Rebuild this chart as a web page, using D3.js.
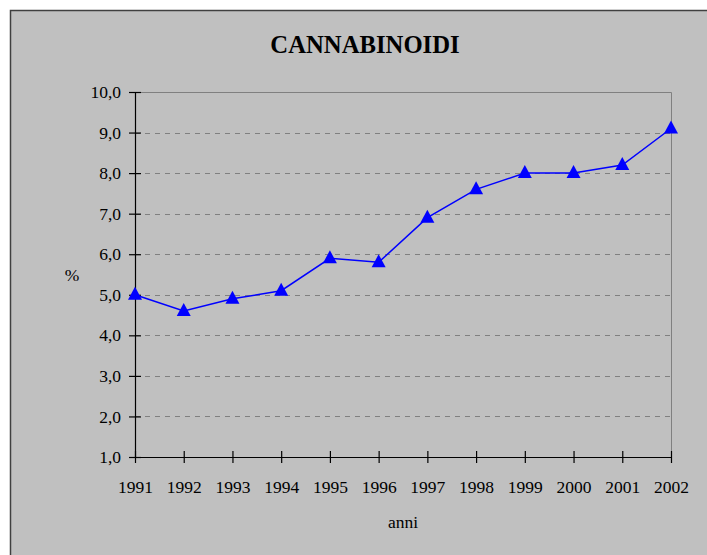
<html>

<head>
  <title>CANNABINOIDI</title>
  <style>
    body { margin: 0; background: #fff; }
    text { font-family: "Liberation Serif", "Times New Roman", serif; fill: #000; }
  </style>
</head>

<body>
  <script src="https://d3js.org/d3.v7.min.js"></script>
  <script>
    var years = ["1991", "1992", "1993", "1994", "1995", "1996", "1997", "1998", "1999", "2000", "2001", "2002"];
    var values = [5.0, 4.6, 4.9, 5.1, 5.9, 5.8, 6.9, 7.6, 8.0, 8.0, 8.2, 9.1];
    var yTicks = [1, 2, 3, 4, 5, 6, 7, 8, 9, 10];

    var W = 707, H = 555;
    var margin = { top: 92, right: 36, bottom: 98, left: 135 };
    var width = W - margin.left - margin.right;
    var height = H - margin.top - margin.bottom;

    var root = d3.select("body").append("svg")
      .attr("width", W)
      .attr("height", H);

    // chart frame
    root.append("rect")
      .attr("x", 10.5).attr("y", 10.5)
      .attr("width", W).attr("height", H)
      .attr("fill", "#c0c0c0")
      .attr("stroke", "#404040")
      .attr("stroke-width", 1.5);

    root.append("text")
      .attr("x", 365)
      .attr("y", 53)
      .attr("text-anchor", "middle")
      .style("font-size", "24.7px")
      .style("font-weight", "bold")
      .text("CANNABINOIDI");

    var svg = root.append("g")
      .attr("transform", "translate(" + margin.left + "," + margin.top + ")");

    var x = d3.scalePoint().domain(years).range([0, width]);
    var y = d3.scaleLinear().domain([1, 10]).range([height, 0]);

    // dashed grid
    svg.append("g")
      .selectAll("line")
      .data(yTicks.filter(function (d) { return d > 1 && d < 10; }))
      .enter().append("line")
      .attr("x1", 0).attr("x2", width)
      .attr("y1", function (d) { return Math.round(y(d)) + 0.5; })
      .attr("y2", function (d) { return Math.round(y(d)) + 0.5; })
      .attr("stroke", "#808080")
      .attr("stroke-dasharray", "5,5");

    // plot border top / right
    svg.append("path")
      .attr("d", "M0.5,0.5H" + (width + 0.5) + "V" + height)
      .attr("fill", "none")
      .attr("stroke", "#808080")
      .attr("stroke-width", 1);

    var fmt = function (d) { return d3.format(".1f")(d).replace(".", ","); };

    var yAxis = d3.axisLeft(y).tickValues(yTicks).tickFormat(fmt).tickSizeInner(6).tickSizeOuter(0).tickPadding(8);
    var yg = svg.append("g").call(yAxis);
    yg.selectAll(".tick line").attr("x2", 6).attr("x1", -6);

    var xAxis = d3.axisBottom(x).tickSizeInner(6).tickSizeOuter(0).tickPadding(18);
    var xg = svg.append("g").attr("transform", "translate(0," + height + ")").call(xAxis);
    xg.selectAll(".tick line").attr("y1", -6).attr("y2", 6);

    root.selectAll(".domain, .tick line").attr("stroke", "#000").attr("stroke-width", 1.2);
    root.selectAll(".tick text")
      .style("font-family", "'Liberation Serif', 'Times New Roman', serif")
      .style("font-size", "17.5px")
      .attr("fill", "#000");

    svg.append("text")
      .attr("x", width / 2)
      .attr("y", height + 71)
      .attr("text-anchor", "middle")
      .style("font-size", "17.5px")
      .text("anni");

    svg.append("text")
      .attr("x", -63)
      .attr("y", 189)
      .attr("text-anchor", "middle")
      .style("font-size", "17.5px")
      .text("%");

    var line = d3.line()
      .x(function (d, i) { return x(years[i]); })
      .y(function (d) { return y(d); });

    svg.append("path")
      .datum(values)
      .attr("d", line)
      .attr("fill", "none")
      .attr("stroke", "#0000ff")
      .attr("stroke-width", 1.5);

    svg.selectAll(".pt")
      .data(values)
      .enter().append("path")
      .attr("class", "pt")
      .attr("d", "M0,-8L7,5H-7Z")
      .attr("transform", function (d, i) { return "translate(" + x(years[i]) + "," + y(d) + ")"; })
      .attr("fill", "#0000ff");
  </script>
</body>

</html>
